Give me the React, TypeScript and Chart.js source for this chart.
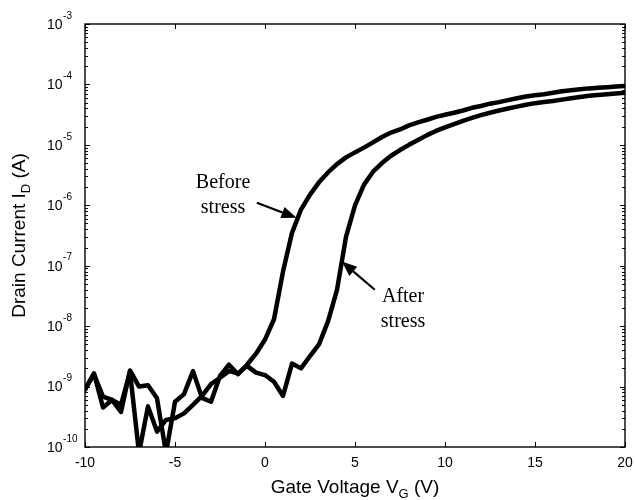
import React, { useEffect, useRef } from "react";
import { Chart, registerables } from "chart.js";

Chart.register(...registerables);

// ---- data ----
const gateVoltage = [
  -10, -9.5, -9, -8.5, -8, -7.5, -7, -6.5, -6, -5.5, -5, -4.5, -4, -3.5, -3, -2.5, -2, -1.5, -1, -0.5,
  0, 0.5, 1, 1.5, 2, 2.5, 3, 3.5, 4, 4.5, 5, 5.5, 6, 6.5, 7, 7.5, 8, 8.5, 9, 9.5,
  10, 10.5, 11, 11.5, 12, 12.5, 13, 13.5, 14, 14.5, 15, 15.5, 16, 16.5, 17, 17.5, 18, 18.5, 19, 19.5, 20,
];

const beforeStress = [
  9.0e-10, 1.65e-9, 4.5e-10, 6.0e-10, 3.8e-10, 1.85e-9, 1.0e-9, 1.05e-9, 6.4e-10, 8e-11,
  5.6e-10, 7.5e-10, 1.8e-9, 6.5e-10, 5.6e-10, 1.5e-9, 2.3e-9, 1.6e-9, 2.3e-9, 3.5e-9,
  6e-9, 1.3e-8, 8e-8, 3.5e-7, 8.5e-7, 1.5e-6, 2.4e-6, 3.5e-6, 4.8e-6, 6.2e-6,
  7.5e-6, 9e-6, 1.1e-5, 1.35e-5, 1.6e-5, 1.8e-5, 2.1e-5, 2.35e-5, 2.6e-5, 2.9e-5,
  3.15e-5, 3.4e-5, 3.7e-5, 4.1e-5, 4.4e-5, 4.8e-5, 5.1e-5, 5.5e-5, 5.9e-5, 6.3e-5,
  6.6e-5, 6.9e-5, 7.3e-5, 7.7e-5, 8.0e-5, 8.3e-5, 8.6e-5, 8.8e-5, 9.0e-5, 9.2e-5, 9.4e-5,
];

const afterStress = [
  9.0e-10, 1.6e-9, 6.8e-10, 6.0e-10, 5.0e-10, 1.75e-9, 8e-11, 4.7e-10, 1.8e-10, 2.8e-10,
  3.0e-10, 3.6e-10, 5.0e-10, 7.0e-10, 1.1e-9, 1.4e-9, 1.8e-9, 1.65e-9, 2.2e-9, 1.7e-9,
  1.55e-9, 1.2e-9, 7e-10, 2.4e-9, 2.0e-9, 3.2e-9, 5e-9, 1.2e-8, 4e-8, 3e-7,
  1e-6, 2.2e-6, 3.6e-6, 5e-6, 6.6e-6, 8.2e-6, 1e-5, 1.2e-5, 1.45e-5, 1.7e-5,
  1.95e-5, 2.2e-5, 2.5e-5, 2.8e-5, 3.1e-5, 3.4e-5, 3.7e-5, 4.0e-5, 4.3e-5, 4.6e-5,
  4.9e-5, 5.1e-5, 5.3e-5, 5.6e-5, 5.9e-5, 6.2e-5, 6.5e-5, 6.7e-5, 6.9e-5, 7.1e-5, 7.3e-5,
];

const xTickValues = [-10, -5, 0, 5, 10, 15, 20];
const xTickLabels = ["-10", "-5", "0", "5", "10", "15", "20"];
const yTickExponents = [-3, -4, -5, -6, -7, -8, -9, -10];
const yTickBase = "10";

const xTitle = ["Gate Voltage V", "G", " (V)"];
const yTitle = ["Drain Current I", "D", " (A)"];

// annotations in data units: text block centre, arrow tail, arrow tip
const beforeLines = ["Before", "stress"];
const beforeText = [-2.33, 1.45e-6];
const beforeTail = [-0.45, 1.1e-6];
const beforeTip = [1.75, 6.2e-7];

const afterLines = ["After", "stress"];
const afterText = [7.67, 1.89e-8];
const afterTail = [6.1, 4.0e-8];
const afterTip = [4.27, 1.17e-7];

const SANS = '"Liberation Sans", Arial, Helvetica, sans-serif';
const SERIF = '"Liberation Serif", "Times New Roman", serif';

function drawArrow(ctx: CanvasRenderingContext2D, x1: number, y1: number, x2: number, y2: number) {
  const ang = Math.atan2(y2 - y1, x2 - x1);
  const headLen = 15;
  const headHalf = 6;
  const bx = x2 - headLen * Math.cos(ang);
  const by = y2 - headLen * Math.sin(ang);
  ctx.lineWidth = 2.2;
  ctx.beginPath();
  ctx.moveTo(x1, y1);
  ctx.lineTo(bx, by);
  ctx.stroke();
  ctx.beginPath();
  ctx.moveTo(x2, y2);
  ctx.lineTo(bx + headHalf * Math.sin(ang), by - headHalf * Math.cos(ang));
  ctx.lineTo(bx - headHalf * Math.sin(ang), by + headHalf * Math.cos(ang));
  ctx.closePath();
  ctx.fill();
}

function drawSubText(ctx: CanvasRenderingContext2D, parts: string[], cx: number, baseY: number) {
  const big = `19px ${SANS}`;
  const small = `13px ${SANS}`;
  ctx.font = big;
  const w0 = ctx.measureText(parts[0]).width;
  const w2 = ctx.measureText(parts[2]).width;
  ctx.font = small;
  const w1 = ctx.measureText(parts[1]).width;
  const total = w0 + w1 + w2;
  let x = cx - total / 2;
  ctx.textAlign = "left";
  ctx.textBaseline = "alphabetic";
  ctx.font = big;
  ctx.fillText(parts[0], x, baseY);
  x += w0;
  ctx.font = small;
  ctx.fillText(parts[1], x, baseY + 5);
  x += w1;
  ctx.font = big;
  ctx.fillText(parts[2], x, baseY);
}

const framePlugin = {
  id: "matlabFrame",
  afterDatasetsDraw(chart: any) {
    const { ctx, chartArea: a, scales } = chart;
    const xs = scales.x;
    const ys = scales.y;
    ctx.save();
    ctx.strokeStyle = "#000";
    ctx.fillStyle = "#000";

    // box
    ctx.lineWidth = 1.4;
    ctx.strokeRect(a.left, a.top, a.right - a.left, a.bottom - a.top);

    const seg = (x1: number, y1: number, x2: number, y2: number) => {
      ctx.beginPath();
      ctx.moveTo(x1, y1);
      ctx.lineTo(x2, y2);
      ctx.stroke();
    };

    // x ticks (inside, bottom and top)
    ctx.lineWidth = 1;
    xTickValues.forEach((v) => {
      const px = Math.round(xs.getPixelForValue(v)) + 0.5;
      seg(px, a.bottom, px, a.bottom - 5);
      seg(px, a.top, px, a.top + 5);
    });

    // y major ticks
    yTickExponents.forEach((e) => {
      const py = Math.round(ys.getPixelForValue(Math.pow(10, e))) + 0.5;
      seg(a.left, py, a.left + 5, py);
      seg(a.right, py, a.right - 5, py);
    });
    // y minor ticks
    yTickExponents.forEach((e) => {
      if (e === yTickExponents[0]) return;
      for (let m = 2; m <= 9; m++) {
        const py = Math.round(ys.getPixelForValue(m * Math.pow(10, e))) + 0.5;
        seg(a.left, py, a.left + 3, py);
        seg(a.right, py, a.right - 3, py);
      }
    });

    // x tick labels
    ctx.font = `14px ${SANS}`;
    ctx.textAlign = "center";
    ctx.textBaseline = "alphabetic";
    xTickValues.forEach((v, i) => {
      ctx.fillText(xTickLabels[i], xs.getPixelForValue(v), a.bottom + 20);
    });

    // y tick labels 10^e
    yTickExponents.forEach((e) => {
      const py = ys.getPixelForValue(Math.pow(10, e));
      ctx.font = `14px ${SANS}`;
      ctx.textAlign = "left";
      ctx.textBaseline = "middle";
      const bx = a.left - 38;
      ctx.fillText(yTickBase, bx, py + 1);
      const w = ctx.measureText(yTickBase).width;
      ctx.font = `10px ${SANS}`;
      ctx.fillText(String(e), bx + w + 0.5, py - 8);
    });

    // axis titles
    drawSubText(ctx, xTitle, (a.left + a.right) / 2, a.bottom + 46);
    ctx.save();
    ctx.translate(25, (a.top + a.bottom) / 2);
    ctx.rotate(-Math.PI / 2);
    drawSubText(ctx, yTitle, 0, 0);
    ctx.restore();

    // annotations
    const annotate = (lines: string[], txt: number[], tail: number[], tip: number[]) => {
      ctx.font = `20px ${SERIF}`;
      ctx.textAlign = "center";
      ctx.textBaseline = "middle";
      const cx = xs.getPixelForValue(txt[0]);
      const cy = ys.getPixelForValue(txt[1]);
      ctx.fillText(lines[0], cx, cy - 12.5);
      ctx.fillText(lines[1], cx, cy + 12.5);
      drawArrow(
        ctx,
        xs.getPixelForValue(tail[0]),
        ys.getPixelForValue(tail[1]),
        xs.getPixelForValue(tip[0]),
        ys.getPixelForValue(tip[1])
      );
    };
    annotate(beforeLines, beforeText, beforeTail, beforeTip);
    annotate(afterLines, afterText, afterTail, afterTip);

    ctx.restore();
  },
};

export default function App() {
  const ref = useRef<HTMLCanvasElement>(null);

  useEffect(() => {
    const canvas = ref.current;
    if (!canvas) return;
    const chart = new Chart(canvas, {
      type: "line",
      data: {
        datasets: [
          {
            label: "Before stress",
            data: gateVoltage.map((v, i) => ({ x: v, y: beforeStress[i] })),
            borderColor: "#000",
            borderWidth: 4.5,
            pointRadius: 0,
            tension: 0,
            fill: false,
            borderJoinStyle: "round",
            borderCapStyle: "round",
          },
          {
            label: "After stress",
            data: gateVoltage.map((v, i) => ({ x: v, y: afterStress[i] })),
            borderColor: "#000",
            borderWidth: 4.5,
            pointRadius: 0,
            tension: 0,
            fill: false,
            borderJoinStyle: "round",
            borderCapStyle: "round",
          },
        ],
      },
      options: {
        responsive: false,
        animation: false,
        events: [],
        layout: { padding: { left: 85, right: 10, top: 24, bottom: 53 } },
        plugins: {
          legend: { display: false },
          tooltip: { enabled: false },
        },
        scales: {
          x: { type: "linear", min: -10, max: 20, display: false },
          y: { type: "logarithmic", min: 1e-10, max: 1e-3, display: false },
        },
      },
      plugins: [framePlugin],
    } as any);
    return () => chart.destroy();
  }, []);

  return (
    <div style={{ position: "absolute", left: 0, top: 0, width: 635, height: 500, background: "#fff" }}>
      <canvas ref={ref} width={635} height={500} style={{ display: "block" }} />
    </div>
  );
}
